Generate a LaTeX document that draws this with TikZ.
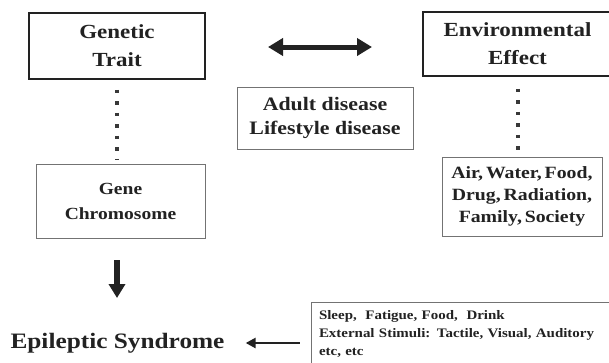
\documentclass[tikz,border=0pt]{standalone}
\usepackage{fontspec}
\setmainfont{Liberation Serif}[FakeStretch=1.15]
\usetikzlibrary{arrows.meta}
\definecolor{ink}{HTML}{222222}
\tikzset{
  topbox/.style={draw=ink, line width=1.8pt, rectangle, inner sep=0pt, align=center, text=ink, font=\bfseries\fontsize{20}{28}\selectfont},
  thinbox/.style={draw=black!55, line width=0.9pt, rectangle, inner sep=0pt, align=center, text=ink},
  dotline/.style={draw=ink!90, line width=3.5pt, dash pattern=on 3.5pt off 8pt},
}
\begin{document}
\begin{tikzpicture}[x=1pt,y=-1pt]
\useasboundingbox (0,0) rectangle (609,362);
\clip (0,0) rectangle (609,362);
\fill[white] (0,0) rectangle (609,362);
% top boxes
\node[topbox, minimum width=176pt, minimum height=66pt] (gen) at (117,46) {Genetic\\Trait};
\node[topbox, minimum width=189pt, minimum height=64pt] (env) at (517.5,44) {Environmental\\Effect};
% middle boxes
\node[thinbox, minimum width=176pt, minimum height=62pt, font=\bfseries\fontsize{19}{24}\selectfont] (adult) at (325,118) {Adult disease\\Lifestyle disease};
\node[thinbox, minimum width=169pt, minimum height=74pt, font=\bfseries\fontsize{17}{25}\selectfont] (gene) at (120.5,201) {Gene\\Chromosome};
\node[thinbox, minimum width=160pt, minimum height=79pt, font=\bfseries\fontsize{17.2}{22}\selectfont] (air) at (522,196.5) {Air,\,Water,\,Food,\\Drug,\,Radiation,\\Family,\,Society};
% bottom
\node[inner sep=0pt, text=ink, font=\bfseries\fontsize{22}{26}\selectfont] (epi) at (117.5,343) {Epileptic Syndrome};
\node[thinbox, minimum width=301pt, minimum height=64pt, text width=285pt, align=left, font=\bfseries\fontsize{13}{18}\selectfont] (sleep) at (461.5,334) {Sleep,\ \ Fatigue, Food,\ \ Drink\\External Stimuli: Tactile, Visual, Auditory\\etc, etc};
% dotted links
\draw[dotline, shorten <=10pt, shorten >=4pt] (gen.south -| 117,0) -- (117,164);
\draw[dotline, shorten <=12pt, shorten >=5pt] (env.south -| 518,0) -- (air.north -| 518,0);
% double arrow
\coordinate (da1) at (268,47);
\coordinate (da2) at (372,47);
\draw[ink, line width=5pt, {Triangle[length=15pt,width=17pt]}-{Triangle[length=15pt,width=17pt]}] (da1) -- (da2);
% down arrow
\coordinate (dn1) at (117,260);
\coordinate (dn2) at (117,298);
\draw[ink, line width=6pt, -{Triangle[length=14pt,width=16pt]}] (dn1) -- (dn2);
% left arrow
\draw[ink, line width=2.5pt, -{Triangle[length=10pt,width=10pt]}, shorten <=11pt, shorten >=21pt] (sleep.west |- epi.center) -- (epi.east);
\end{tikzpicture}
\end{document}
